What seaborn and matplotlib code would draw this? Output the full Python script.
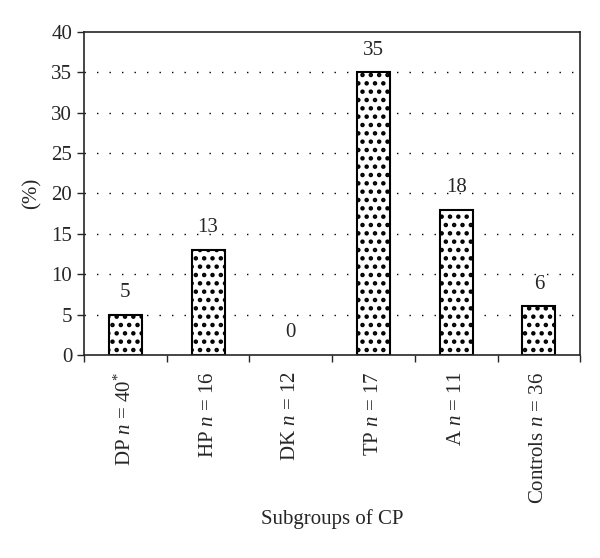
import seaborn as sns
import matplotlib.pyplot as plt
import pandas as pd

groups = ["DP $\\mathit{n}$ = 40$^{*}$", "HP $\\mathit{n}$ = 16", "DK $\\mathit{n}$ = 12",
          "TP $\\mathit{n}$ = 17", "A $\\mathit{n}$ = 11", "Controls $\\mathit{n}$ = 36"]
percent = [5, 13, 0, 35, 18, 6]

sns.set_style("ticks")
plt.rcParams['font.family'] = ['Liberation Serif', 'DejaVu Serif']
plt.rcParams['mathtext.fontset'] = 'custom'
plt.rcParams['mathtext.rm'] = 'Liberation Serif'
plt.rcParams['mathtext.it'] = 'Liberation Serif:italic'
plt.rcParams['hatch.linewidth'] = 2.0

df = pd.DataFrame({"group": groups, "percent": percent})

fig = plt.figure(figsize=(6, 5.58), dpi=100)
ax = fig.add_axes([0.14, 0.364, 0.827, 0.579])

sns.barplot(data=df, x="group", y="percent", ax=ax, color="white",
            edgecolor="black", linewidth=1.5, width=0.4)

fs = 15
for c in ax.containers:
    for bar, v in zip(c, percent):
        bar.set_hatch("..")
        if v == 0:
            bar.set_linewidth(0)
    ax.bar_label(c, labels=[str(v) for v in percent], padding=9, fontsize=fs)

ax.set_ylim(0, 40)
ax.set_xlim(-0.5, len(groups) - 0.5)
ax.set_yticks(range(0, 41, 5))
ax.tick_params(axis='y', direction='out', length=5, width=1, labelsize=fs)
ax.set_xticks(range(len(groups)))
ax.set_xticklabels(groups, rotation=90, fontsize=fs)
ax.tick_params(axis='x', which='major', length=0, pad=12)
ax.set_xticks([i - 0.5 for i in range(len(groups) + 1)], minor=True)
ax.tick_params(axis='x', which='minor', direction='out', length=5, width=1)

for y in range(5, 40, 5):
    ax.axhline(y, color='black', linestyle=(0, (1, 8)), linewidth=1, zorder=0)

for s in ax.spines.values():
    s.set_visible(True)
    s.set_linewidth(1.2)

ax.set_xlabel("Subgroups of CP", fontsize=fs, labelpad=4)
ax.set_ylabel("(%)", fontsize=fs, labelpad=7)

fig.savefig("out.png", dpi=100)
